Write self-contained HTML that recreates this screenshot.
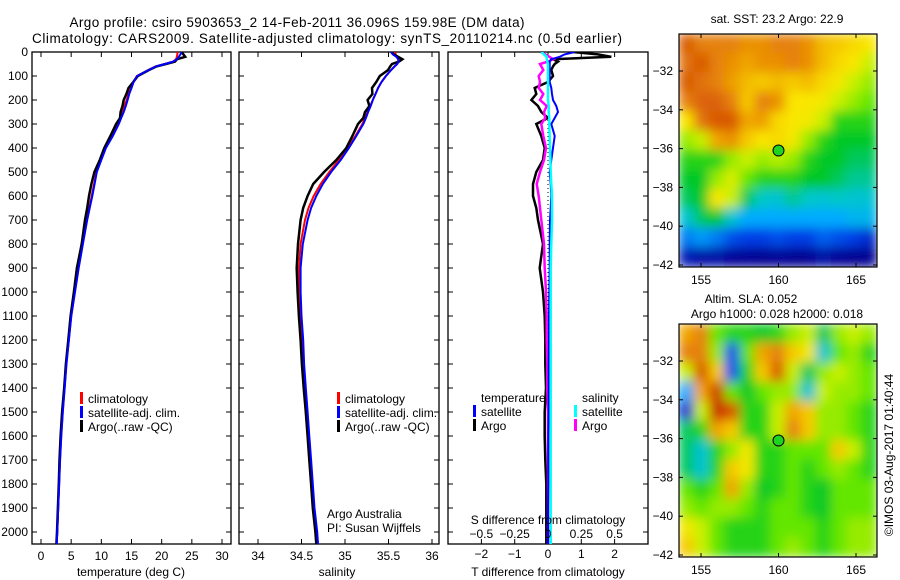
<!DOCTYPE html>
<html><head><meta charset="utf-8"><style>
body{margin:0;background:#fff;}
svg{display:block;font-family:"Liberation Sans",sans-serif;}
</style></head><body>
<svg id="fig" width="900" height="580" viewBox="0 0 900 580" xmlns="http://www.w3.org/2000/svg">
<defs>
<filter id="blr" filterUnits="objectBoundingBox" x="0" y="0" width="1" height="1"><feGaussianBlur stdDeviation="5.5" edgeMode="duplicate"/></filter>
<clipPath id="c1"><rect x="679" y="34" width="198" height="233"/></clipPath>
<clipPath id="c2"><rect x="679" y="324" width="198" height="233"/></clipPath>
<clipPath id="cp1"><rect x="32" y="52" width="199" height="492"/></clipPath>
<clipPath id="cp2"><rect x="239" y="52" width="200" height="492"/></clipPath>
<clipPath id="cp3"><rect x="448" y="52" width="200" height="492"/></clipPath>
</defs>
<text x="297" y="27" font-size="13.5" text-anchor="middle" textLength="455">Argo profile: csiro 5903653_2 14-Feb-2011 36.096S 159.98E (DM data)</text>
<text x="327" y="43" font-size="13.5" text-anchor="middle" textLength="590">Climatology: CARS2009. Satellite-adjusted climatology: synTS_20110214.nc (0.5d earlier)</text>
<g id="g"></g>
</svg>
<script>
const depth=[0,10,20,30,40,50,60,75,100,125,150,175,200,225,250,275,300,350,400,450,500,550,600,650,700,800,900,1000,1100,1200,1300,1400,1500,1600,1700,1800,1900,2000,2050];
const tClim=[22.6,22.6,22.5,22.4,21.9,20.5,19.0,17.8,15.9,15.3,14.9,14.5,14.2,13.8,13.4,13.1,12.8,11.7,10.6,9.9,9.2,8.8,8.4,8.0,7.6,6.9,6.2,5.6,5.0,4.6,4.2,3.9,3.6,3.35,3.15,3.0,2.85,2.7,2.6];
const tSat=[23.3,23.1,22.85,22.5,21.95,20.55,19.05,17.85,15.95,15.35,15.0,14.62,14.35,14.05,13.7,13.3,12.9,11.9,10.75,10.0,9.25,8.88,8.5,8.08,7.66,6.95,6.25,5.64,5.03,4.63,4.22,3.92,3.62,3.36,3.16,3.01,2.85,2.7,2.6];
const tArgo=[23.3,23.6,23.9,22.55,22.2,20.7,19.15,17.9,16.05,15.3,14.5,14.15,13.7,13.5,13.2,13.1,12.45,11.5,10.5,9.75,8.85,8.35,7.95,7.65,7.3,6.75,5.95,5.45,4.9,4.52,4.12,3.84,3.5,3.25,3.07,2.95,2.8,2.65,2.55];
const sClim=[35.58,35.58,35.6,35.62,35.62,35.6,35.57,35.53,35.47,35.42,35.38,35.35,35.32,35.29,35.26,35.23,35.2,35.12,35.03,34.93,34.82,34.72,34.64,34.58,34.54,34.49,34.47,34.47,34.48,34.5,34.51,34.53,34.55,34.57,34.59,34.61,34.63,34.66,34.67];
const sSat=[35.53,35.55,35.59,35.61,35.615,35.6,35.57,35.53,35.47,35.42,35.38,35.35,35.32,35.295,35.265,35.24,35.21,35.13,35.045,34.95,34.84,34.745,34.67,34.61,34.57,34.515,34.49,34.49,34.5,34.52,34.53,34.55,34.57,34.59,34.61,34.63,34.65,34.68,34.69];
const sArgo=[35.53,35.56,35.61,35.66,35.62,35.54,35.52,35.495,35.4,35.36,35.31,35.315,35.26,35.28,35.23,35.21,35.15,35.085,35.015,34.9,34.76,34.635,34.57,34.52,34.49,34.46,34.445,34.455,34.47,34.49,34.505,34.525,34.55,34.57,34.59,34.61,34.63,34.66,34.67];
const dTsat=[0.8,0.5,0.35,0.1,0.05,0.05,0.05,0.05,0.05,0.05,0.1,0.12,0.15,0.25,0.3,0.2,0.1,0.2,0.15,0.1,0.05,0.08,0.1,0.08,0.06,0.05,0.05,0.04,0.03,0.03,0.02,0.02,0.02,0.01,0.01,0.01,0,0,0];
const dTargo=[0.75,1.5,1.9,0.15,0.3,0.2,0.15,0.1,0.15,0,-0.4,-0.35,-0.5,-0.3,-0.2,0,-0.35,-0.2,-0.1,-0.15,-0.35,-0.45,-0.45,-0.35,-0.3,-0.15,-0.25,-0.15,-0.1,-0.08,-0.08,-0.06,-0.1,-0.1,-0.08,-0.05,-0.05,-0.05,-0.05];
const dSsat=[-0.05,-0.03,-0.01,-0.01,-0.005,0,0,0,0,0,0,0,0,0.005,0.005,0.01,0.01,0.012,0.015,0.018,0.02,0.025,0.03,0.03,0.03,0.025,0.02,0.02,0.02,0.02,0.02,0.02,0.02,0.02,0.02,0.02,0.02,0.02,0.02];
const dSargo=[-0.05,-0.02,0.01,0.04,0,-0.06,-0.05,-0.035,-0.07,-0.06,-0.07,-0.035,-0.06,-0.01,-0.03,-0.02,-0.05,-0.035,-0.015,-0.03,-0.06,-0.085,-0.07,-0.06,-0.05,-0.03,-0.025,-0.015,-0.01,-0.01,-0.005,-0.005,0,0,0,0,0,0,0];
const depthTicks=[0,100,200,300,400,500,600,700,800,900,1000,1100,1200,1300,1400,1500,1600,1700,1800,1900,2000];
const tTicks=[0,5,10,15,20,25,30];
const sTicks=[34,34.5,35,35.5,36];
const dTTicks=[-2,-1,0,1,2];
const dSTicks=[-0.5,-0.25,0,0.25,0.5];
const dSTickLabels=["\u22120.5","\u22120.25","0","0.25","0.5"];
const dTTickLabels=["\u22122","\u22121","0","1","2"];
const latTicks=[-32,-34,-36,-38,-40,-42];
const lonTicks=[155,160,165];
const sstGrid=[
[0.85,0.8,0.8,0.8,0.78,0.78,0.8,0.8,0.78,0.72,0.7,0.68,0.66],
[0.82,0.85,0.8,0.78,0.75,0.78,0.78,0.8,0.78,0.72,0.68,0.66,0.6],
[0.85,0.82,0.8,0.76,0.72,0.7,0.72,0.7,0.72,0.68,0.65,0.6,0.55],
[0.8,0.84,0.84,0.8,0.7,0.8,0.78,0.66,0.66,0.65,0.6,0.55,0.5],
[0.66,0.82,0.85,0.85,0.75,0.76,0.68,0.66,0.65,0.6,0.45,0.45,0.45],
[0.55,0.6,0.75,0.78,0.7,0.66,0.68,0.65,0.55,0.45,0.42,0.42,0.42],
[0.45,0.45,0.45,0.55,0.6,0.55,0.58,0.55,0.45,0.42,0.42,0.4,0.4],
[0.42,0.42,0.55,0.62,0.5,0.45,0.45,0.45,0.42,0.42,0.4,0.38,0.38],
[0.4,0.42,0.66,0.6,0.4,0.36,0.35,0.38,0.36,0.35,0.36,0.35,0.35],
[0.35,0.4,0.42,0.35,0.3,0.3,0.3,0.3,0.3,0.3,0.3,0.32,0.32],
[0.25,0.28,0.25,0.2,0.18,0.18,0.2,0.18,0.18,0.22,0.2,0.18,0.15],
[0.12,0.1,0.1,0.08,0.08,0.06,0.08,0.06,0.06,0.1,0.08,0.06,0.06]];
const slaGrid=[
[0.75,0.8,0.5,0.45,0.45,0.42,0.45,0.55,0.6,0.4,0.55,0.6,0.55],
[0.8,0.8,0.55,0.2,0.5,0.75,0.8,0.7,0.65,0.35,0.5,0.55,0.45],
[0.6,0.85,0.7,0.2,0.45,0.7,0.85,0.6,0.4,0.55,0.6,0.55,0.5],
[0.3,0.75,0.88,0.5,0.42,0.5,0.55,0.55,0.35,0.6,0.55,0.55,0.5],
[0.15,0.6,0.9,0.85,0.45,0.45,0.6,0.75,0.7,0.55,0.55,0.5,0.45],
[0.4,0.45,0.75,0.7,0.45,0.45,0.6,0.8,0.7,0.55,0.55,0.5,0.45],
[0.4,0.35,0.45,0.55,0.65,0.45,0.45,0.5,0.5,0.5,0.7,0.6,0.45],
[0.4,0.35,0.45,0.7,0.65,0.45,0.45,0.5,0.45,0.5,0.55,0.5,0.45],
[0.5,0.45,0.5,0.75,0.55,0.42,0.45,0.5,0.45,0.42,0.5,0.5,0.5],
[0.55,0.5,0.55,0.55,0.5,0.45,0.5,0.5,0.45,0.42,0.5,0.5,0.5],
[0.65,0.6,0.5,0.45,0.45,0.45,0.5,0.5,0.5,0.45,0.5,0.55,0.55],
[0.7,0.6,0.5,0.45,0.45,0.45,0.5,0.55,0.5,0.45,0.5,0.55,0.55]];
const argoLon=160.0, argoLat=-36.1;

const NS="http://www.w3.org/2000/svg";
const G=document.getElementById('g');
function mk(tag,attrs,parent){const e=document.createElementNS(NS,tag);for(const k in attrs)e.setAttribute(k,attrs[k]);(parent||G).appendChild(e);return e;}
function txt(x,y,s,size,anchor,parent){const t=mk('text',{x:x,y:y,'font-size':size,'text-anchor':anchor||'middle'},parent);t.textContent=s;return t;}
const yD=d=>52+d*0.24;
const TOP=52,BOT=544;
function linScale(d0,d1,p0,p1){return v=>p0+(v-d0)*(p1-p0)/(d1-d0);}
const xT=linScale(0,30,41,222);
const xS=linScale(34,36,258,432);
const xDT=linScale(0,1,548,581.3);
const xDS=linScale(0,1,548,681.3);

function panel(x0,x1,name){
  const g=mk('g',{});
  
  
  const fr=mk('rect',{x:x0,y:TOP,width:x1-x0,height:BOT-TOP,fill:'none',stroke:'#000','stroke-width':1.3},g);
  
  
  depthTicks.forEach(d=>{
    mk('line',{x1:x0,x2:x0+5,y1:yD(d),y2:yD(d),stroke:'#000'},g);
    mk('line',{x1:x1-5,x2:x1,y1:yD(d),y2:yD(d),stroke:'#000'},g);
  });
  return g;
}
function line(xs,xf,color,w,g,name,clip){
  let p='';xs.forEach((v,i)=>{if(v==null)return;p+=(p?'L':'M')+xf(v).toFixed(1)+','+yD(depth[i]).toFixed(1);});
  const e=mk('path',{d:p,fill:'none',stroke:color,'stroke-width':w,'clip-path':'url(#'+clip+')'},g);
  
  
}
function xticks(ticks,xf,labels,g,yl){
  ticks.forEach((t,i)=>{
    mk('line',{x1:xf(t),x2:xf(t),y1:BOT-5,y2:BOT,stroke:'#000'},g);
    mk('line',{x1:xf(t),x2:xf(t),y1:TOP,y2:TOP+5,stroke:'#000'},g);
    if(labels){const l=txt(xf(t),yl,labels[i],12,'middle',g);
      
      }
  });
}
function legendEntry(x,y,color,label,g){
  const r=mk('rect',{x:x,y:y-11,width:3,height:12,fill:color},g);
  
  
  const t=txt(x+8,y,label,12,'start',g);
  
  
}
depthTicks.forEach(d=>{const t=txt(28,yD(d)+4,String(d),12,'end');
  
  });

const p1=panel(32,231,'temperature-panel');
xticks(tTicks,xT,tTicks.map(String),p1,560);
line(tClim,xT,'#f00',2,p1,'temp-climatology-line','cp1');
line(tArgo,xT,'#000',2.5,p1,'temp-argo-line','cp1');
line(tSat,xT,'#00f',2,p1,'temp-satellite-line','cp1');
const a1=txt(131,576,'temperature (deg C)',12,'middle',p1);


legendEntry(80,403,'#f00','climatology',p1);
legendEntry(80,417,'#00f','satellite-adj. clim.',p1);
legendEntry(80,431,'#000','Argo(..raw -QC)',p1);

const p2=panel(239,439,'salinity-panel');
xticks(sTicks,xS,sTicks.map(String),p2,560);
line(sClim,xS,'#f00',2,p2,'sal-climatology-line','cp2');
line(sArgo,xS,'#000',2.5,p2,'sal-argo-line','cp2');
line(sSat,xS,'#00f',2,p2,'sal-satellite-line','cp2');
const a2=txt(337,576,'salinity',12,'middle',p2);


legendEntry(337,403,'#f00','climatology',p2);
legendEntry(337,417,'#00f','satellite-adj. clim.',p2);
legendEntry(337,431,'#000','Argo(..raw -QC)',p2);
const n1=txt(327,518,'Argo Australia',12,'start',p2);


const n2=txt(327,532,'PI: Susan Wijffels',12,'start',p2);



const p3=panel(448,648,'difference-panel');
xticks(dTTicks,xDT,dTTickLabels,p3,558);
mk('line',{x1:548,x2:548,y1:TOP,y2:BOT,stroke:'#000','stroke-dasharray':'1,3'},p3);
line(dTargo,xDT,'#000',2.5,p3,'dT-argo-line','cp3');
line(dSargo,xDS,'#f0f',2.5,p3,'dS-argo-line','cp3');
line(dTsat,xDT,'#00f',2,p3,'dT-satellite-line','cp3');
line(dSsat,xDS,'#0ff',2.5,p3,'dS-satellite-line','cp3');
dSTicks.forEach((t,i)=>{const l=txt(xDS(t),538,dSTickLabels[i],12,'middle',p3);
  
  });
const a3=txt(548,524,'S difference from climatology',12,'middle',p3);


const a4=txt(548,576,'T difference from climatology',12,'middle',p3);


const lt=txt(481,402,'temperature',12,'start',p3);


const ls=txt(582,402,'salinity',12,'start',p3);


legendEntry(473,416,'#00f','satellite',p3);
legendEntry(473,430,'#000','Argo',p3);
legendEntry(574,416,'#0ff','satellite',p3);
legendEntry(574,430,'#f0f','Argo',p3);

const cmapStops=[[0,0,0,130],[0.08,0,0,150],[0.18,0,60,230],[0.3,0,170,255],[0.36,0,200,200],[0.42,0,200,40],[0.5,100,230,0],[0.6,200,240,0],[0.66,250,230,0],[0.75,240,165,0],[0.82,225,115,10],[0.9,200,45,0],[1,140,0,0]];
function cmap(v){v=Math.max(0,Math.min(1,v));
  for(let i=1;i<cmapStops.length;i++){const a=cmapStops[i-1],b=cmapStops[i];
    if(v<=b[0]){const f=(v-a[0])/(b[0]-a[0]);
      return 'rgb('+[1,2,3].map(k=>Math.round(a[k]+f*(b[k]-a[k]))).join(',')+')';}}
  return 'rgb(140,0,0)';}
function map(grid,y0,clip,name,lat0y){
  const X0=679,X1=877,Y1=y0+233;
  const lonX=linScale(155,165,701,856);
  const latY=linScale(-32,-42,lat0y,lat0y+194);
  const g=mk('g',{});
  
  
  const cg=mk('g',{'clip-path':'url(#'+clip+')'},g);
  const hg=mk('g',{filter:'url(#blr)'},cg);
  const nr=grid.length,nc=grid[0].length,cw=(X1-X0)/nc,ch=(Y1-y0)/nr;
  grid.forEach((row,r)=>row.forEach((v,c)=>{
    const cell=mk('rect',{x:X0+c*cw-0.5,y:y0+r*ch-0.5,width:cw+1,height:ch+1,fill:cmap(v)},hg);
    
    
  }));
  const m=mk('circle',{cx:lonX(argoLon),cy:latY(argoLat),r:5.5,fill:'#1fd41f',stroke:'#000','stroke-width':1},g);
  
  
  mk('rect',{x:X0,y:y0,width:X1-X0,height:Y1-y0,fill:'none',stroke:'#000','stroke-width':1.2},g);
  latTicks.forEach(l=>{const y=latY(l);
    mk('line',{x1:X0,x2:X0+4,y1:y,y2:y,stroke:'#000'},g);
    mk('line',{x1:X1-4,x2:X1,y1:y,y2:y,stroke:'#000'},g);
    const t=txt(673,y+4,'\u2212'+Math.abs(l),12,'end',g);
    
    });
  lonTicks.forEach(l=>{const x=lonX(l);
    mk('line',{x1:x,x2:x,y1:y0,y2:y0+4,stroke:'#000'},g);
    mk('line',{x1:x,x2:x,y1:Y1-4,y2:Y1,stroke:'#000'},g);
    const t=txt(x,Y1+17,String(l),12,'middle',g);
    
    });
}
map(sstGrid,34,'c1','sst-map',71);
map(slaGrid,324,'c2','sla-map',361);
const m1=txt(777,23,'sat. SST: 23.2 Argo: 22.9',12,'middle');


const m2=txt(751,303,'Altim. SLA: 0.052',12,'middle');


const m3=txt(777,318,'Argo h1000: 0.028 h2000: 0.018',12,'middle');


const cr=txt(0,0,'\u00A9IMOS 03-Aug-2017 01:40:44',12,'middle');
cr.setAttribute('transform','translate(893,455) rotate(-90)');


</script>
</body></html>
